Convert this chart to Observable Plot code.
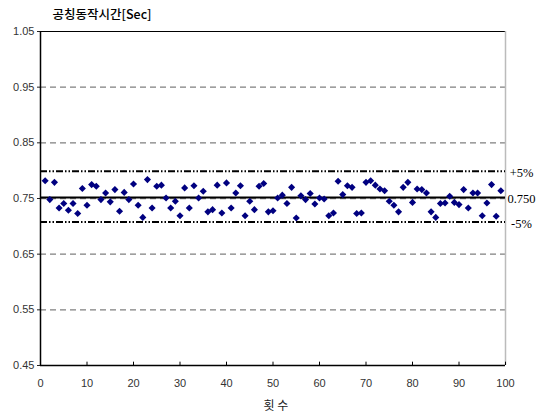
<!DOCTYPE html>
<html><head><meta charset="utf-8">
<script src="https://cdn.jsdelivr.net/npm/d3@7"></script>
<script src="https://cdn.jsdelivr.net/npm/@observablehq/plot@0.6"></script>
<style>body{margin:0;background:#fff} svg{display:block}</style>
</head><body><div id="chart"></div>
<script>
const trials = d3.range(1, 100);
const times = [
  0.782, 0.748, 0.779, 0.733, 0.741, 0.729, 0.741, 0.723, 0.768, 0.738,
  0.775, 0.772, 0.748, 0.760, 0.744, 0.766, 0.727, 0.761, 0.748, 0.776,
  0.738, 0.716, 0.784, 0.733, 0.772, 0.774, 0.751, 0.733, 0.745, 0.719,
  0.769, 0.733, 0.773, 0.751, 0.763, 0.726, 0.730, 0.774, 0.724, 0.778,
  0.733, 0.760, 0.773, 0.719, 0.745, 0.730, 0.772, 0.777, 0.726, 0.728,
  0.751, 0.756, 0.741, 0.770, 0.715, 0.755, 0.748, 0.759, 0.740, 0.751,
  0.749, 0.719, 0.724, 0.781, 0.757, 0.773, 0.770, 0.723, 0.724, 0.779,
  0.782, 0.774, 0.767, 0.764, 0.745, 0.738, 0.726, 0.770, 0.779, 0.743,
  0.767, 0.766, 0.760, 0.726, 0.716, 0.741, 0.742, 0.754, 0.743, 0.739,
  0.766, 0.733, 0.760, 0.760, 0.719, 0.742, 0.775, 0.718, 0.764
];
const xTicks = d3.range(0, 101, 10);
const yTicks = [0.45, 0.55, 0.65, 0.75, 0.85, 0.95, 1.05];
const gridLevels = [0.55, 0.65, 0.75, 0.85, 0.95];
const limitValues = [0.799, 0.708];
const centerValue = 0.752;
const refLabels = ["+5%", "0.750", "-5%"];
const refLabelValues = [0.799, 0.752, 0.708];
const title = "공칭동작시간[Sec]";
const xLabel = "횟 수";

const chart = Plot.plot({
  width: 539, height: 415,
  marginLeft: 40, marginRight: 34, marginTop: 31, marginBottom: 50,
  style: {fontFamily: "'Liberation Sans', sans-serif", fontSize: "11px", color: "#222", background: "#fff", overflow: "visible"},
  x: {domain: [0, 100]},
  y: {domain: [0.45, 1.05]},
  marks: [
    Plot.ruleY(gridLevels, {stroke: "#808080", strokeWidth: 1.3, strokeDasharray: "6,4"}),
    Plot.ruleY([1.05], {stroke: "#000", strokeWidth: 1}),
    Plot.ruleX([100], {stroke: "#bbb", strokeWidth: 1.5}),
    Plot.ruleY(limitValues, {stroke: "#000", strokeWidth: 2, strokeDasharray: "7,2,1.5,2,1.5,2"}),
    Plot.ruleY([centerValue], {stroke: "#000", strokeWidth: 2}),
    Plot.dot(trials, {x: d => d, y: (d, i) => times[i], symbol: "diamond2", r: 3.2, fill: "#000080", stroke: "none"}),
    Plot.axisY({ticks: yTicks, tickFormat: ".2f", tickSize: 3, tickPadding: 3, label: null, fill: "#333"}),
    Plot.axisX({ticks: xTicks, tickSize: 0, tickPadding: 14, label: null, fill: "#333"}),
    Plot.ruleX(xTicks, {y1: 0.45, y2: 0.456, stroke: "#000"}),
    Plot.ruleY([0.45], {stroke: "#000", strokeWidth: 1.5}),
    Plot.ruleX([0], {stroke: "#000", strokeWidth: 1.5}),
    Plot.text(refLabels, {x: () => 100, y: (d, i) => refLabelValues[i], text: d => d, dx: 16, dy: 2,
      fontFamily: "'Liberation Serif', serif", fontSize: 12.5, letterSpacing: -0.6, fill: "#000"}),
    Plot.text([title], {frameAnchor: "top-left", text: d => d, dx: 12, dy: -17, lineAnchor: "middle", textAnchor: "start",
      fontFamily: "'Noto Sans CJK KR', sans-serif", fontSize: 12.5, fontWeight: 500, letterSpacing: -0.6, fill: "#000"}),
    Plot.text([xLabel], {frameAnchor: "bottom", text: d => d, dy: 41, lineAnchor: "middle",
      fontFamily: "'Noto Sans CJK KR', sans-serif", fontSize: 12, letterSpacing: 7, dx: 3, fill: "#222"})
  ]
});
document.getElementById("chart").append(chart);
</script>
</body></html>
